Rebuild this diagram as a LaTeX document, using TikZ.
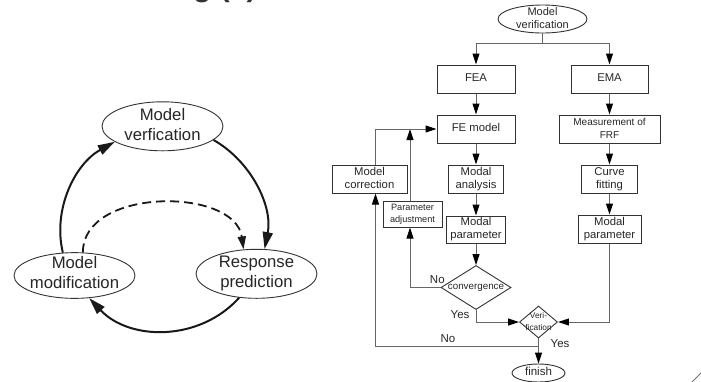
\documentclass[tikz,border=0pt]{standalone}
\usepackage{fontspec}
\setmainfont{Liberation Sans}
\usetikzlibrary{shapes.geometric,arrows.meta}
% centred multi-line text that takes no room, so the shape keeps its set size
\newcommand{\ztext}[1]{\makebox[0pt]{\smash{\raisebox{-.25em}{\begin{tabular}{@{}c@{}}#1\end{tabular}}}}}
\begin{document}
\begin{tikzpicture}[x=1pt,y=-1pt,
  bub/.style={ellipse, draw=black!80, line width=0.9pt, inner sep=0pt,
    minimum width=121pt, minimum height=49pt, text=black!85,
    font=\fontsize{16.7}{20}\selectfont},
  cyc/.style={line width=2pt, draw=black!90, -{Triangle[length=17pt,width=10pt]}},
  box/.style={rectangle, draw=black!80, line width=1pt, inner sep=0pt,
    minimum height=28pt, text=black!85, font=\fontsize{11.3}{13.3}\selectfont},
  oval/.style={ellipse, draw=black!80, line width=0.9pt, inner sep=0pt, text=black!85},
  dia/.style={diamond, draw=black!80, line width=0.9pt, inner sep=0pt, text=black!85},
  flow/.style={draw=black!60, line width=1pt},
  arr/.style={flow, -{Triangle[length=11pt,width=7pt,color=black]}},
  lab/.style={inner sep=0pt, text=black!85, font=\fontsize{11.5}{13}\selectfont}]
\useasboundingbox (0,0) rectangle (701,381);
\clip (0,0) rectangle (701,381);

% heading, cut by the upper edge
\node[anchor=base west, inner sep=0pt, text=black!80,
  font=\bfseries\fontsize{30}{32}\selectfont] (ttl) at (193,-4) {g (a)};

% ---------- update cycle ----------
\node[bub] (mv) at (162.5,126.3) {\ztext{Model\\verfication}};
\node[bub, minimum height=45.7pt] (mm) at (74.5,275.5) {\raisebox{2pt}{\ztext{Model\\modification}}};
\node[bub] (rp) at (256.5,273.8) {\ztext{Response\\prediction}};

\draw[cyc] (mm.117) .. controls (52.4,209) and (75.2,163.7) .. (mv.198);
\draw[cyc] (mv.345) .. controls (251.1,161.4) and (273.0,206.2) .. (rp.72);
\draw[cyc] (rp.234) .. controls (199.7,341.6) and (129.8,341.1) .. (mm.303);
\draw[line width=1.8pt, draw=black!90, dash pattern=on 9pt off 5pt,
  -{Triangle[length=13pt,width=8pt]}] (mm.70) .. controls (82.6,187) and (235,187) .. (rp.118);

% ---------- verification flowchart ----------
\node[oval, minimum width=89pt, minimum height=28pt, font=\fontsize{11}{13}\selectfont]
  (mvr) at (542.5,19) {\ztext{Model\\verification}};
\coordinate (split) at (542.5,43);

\node[box, minimum width=78pt] (fea) at (476,79) {\ztext{FEA}};
\node[box, minimum width=77pt] (ema) at (609.5,79) {\ztext{EMA}};
\node[box, minimum width=78pt] (fem) at (476,129) {\ztext{FE model}};
\node[box, minimum width=101pt, font=\fontsize{10}{13.3}\selectfont] (frf) at (609.5,129) {\ztext{Measurement of\\FRF}};
\node[box, minimum width=56pt] (cf) at (609.5,179) {\ztext{Curve\\fitting}};
\node[box, minimum width=63pt] (mp2) at (609.5,229) {\ztext{Modal\\parameter}};
\node[box, minimum width=75pt] (mc) at (369.5,179) {\ztext{Model\\correction}};
\node[box, minimum width=59pt, minimum height=26pt, font=\fontsize{9.2}{11.7}\selectfont]
  (pa) at (412.5,214) {\ztext{Parameter\\adjustment}};
\node[box, minimum width=55pt] (ma) at (476,179) {\ztext{Modal\\analysis}};
\node[box, minimum width=59pt, minimum height=27pt] (mp1) at (476,229.5) {\ztext{Modal\\parameter}};
\node[dia, minimum width=70pt, minimum height=44pt, font=\fontsize{9.8}{12}\selectfont]
  (conv) at (476,287.5) {\ztext{convergence}};
\node[dia, minimum width=38pt, minimum height=32pt, font=\fontsize{8.3}{12}\selectfont]
  (ver) at (538.5,322) {\ztext{Veri-\\fication}};
\node[oval, minimum width=53pt, minimum height=18pt, font=\fontsize{11.5}{13}\selectfont]
  (fin) at (538.5,373) {\ztext{finish}};

\coordinate (pax) at (410,0);
\coordinate (mcx) at (375.5,0);
\coordinate (nj) at (538.5,346);

\draw[flow] (mvr.south) -- (split);
\draw[arr] (split) -| (fea.north);
\draw[arr] (split) -| (ema.north);
\draw[arr] (fea) -- (fem);
\draw[arr] (ema) -- (frf);
\draw[arr] (fem) -- (ma);
\draw[arr] (ma) -- (mp1);
\draw[arr] (mp1) -- (conv);
\draw[arr] (frf) -- (cf);
\draw[arr] (cf) -- (mp2);
\draw[arr] (mp2.south) |- (ver.east);
\draw[arr] (conv.south) |- (ver.west);
\draw[arr] (conv.west) -| (pa.south -| pax);
\draw[arr] (pa.north -| pax) -- (pax |- fem.west);
\draw[arr] (mc.north -| mcx) |- (fem.west);
\draw[arr] (ver) -- (fin);
\draw[arr] (nj) -| (mc.south -| mcx);

\node[lab] (no1) at (437.3,279.3) {No};
\node[lab] (yes1) at (460,315) {Yes};
\node[lab] (no2) at (448,338.3) {No};
\node[lab] (yes2) at (560,344) {Yes};

% stroke at the lower right corner
\draw[black!55, line width=0.8pt] (692,382) -- (702,372);
\end{tikzpicture}
\end{document}
